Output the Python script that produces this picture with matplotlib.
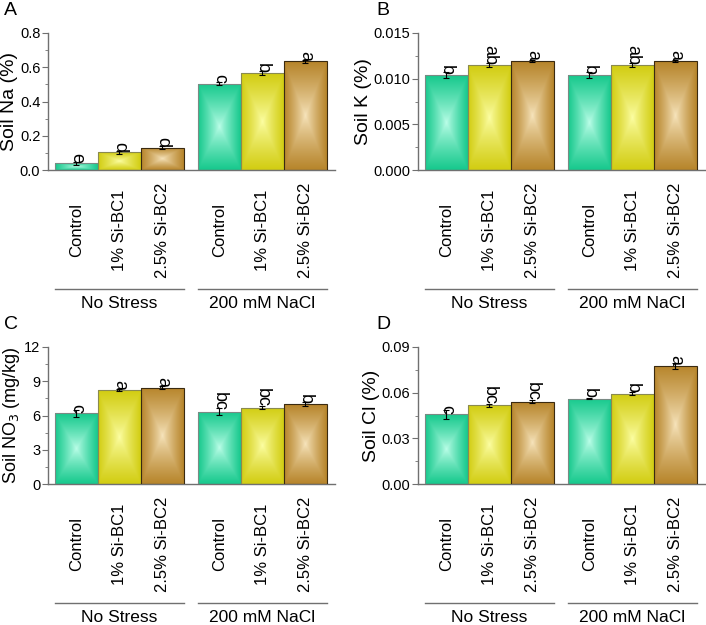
import numpy as np
import matplotlib.pyplot as plt
from matplotlib.colors import to_rgb
from matplotlib.transforms import blended_transform_factory

plt.rcParams['font.family'] = ['Liberation Sans', 'DejaVu Sans']

treatments = ["Control", "1% Si-BC1", "2.5% Si-BC2"]
groups = ["No Stress", "200 mM NaCl"]

na_mean = [0.039, 0.103, 0.131, 0.503, 0.566, 0.634]
na_err = [0.010, 0.008, 0.008, 0.008, 0.012, 0.010]
na_let = ["e", "d", "d", "c", "b", "a"]

k_mean = [0.01039, 0.01149, 0.01193, 0.01039, 0.01149, 0.01193]
k_err = [0.0003, 0.0002, 0.0001, 0.0003, 0.0002, 0.0001]
k_let = ["b", "ab", "a", "b", "ab", "a"]

no3_mean = [6.18, 8.21, 8.45, 6.35, 6.70, 6.99]
no3_err = [0.30, 0.10, 0.10, 0.30, 0.15, 0.20]
no3_let = ["c", "a", "a", "bc", "bc", "b"]

cl_mean = [0.0459, 0.0516, 0.0540, 0.0561, 0.0592, 0.0776]
cl_err = [0.0030, 0.0010, 0.0010, 0.0005, 0.0010, 0.0020]
cl_let = ["c", "bc", "bc", "b", "b", "a"]

edge_cols = ["#17c98d", "#d2cd12", "#b7852b"]
light_cols = ["#bfffea", "#fdffa6", "#f8e6bf"]
border_cols = ["#7a8a84", "#8a8a50", "#3a2a10"]

W, H = 706, 625
fig = plt.figure(figsize=(W / 100, H / 100), dpi=100)

xpos = np.array([0, 1, 2, 3.33, 4.33, 5.33])


def pix_axes(left, right, top, bottom):
    return fig.add_axes([left / W, 1 - bottom / H, (right - left) / W, (bottom - top) / H])


def gradient_img(c_edge, c_light, n=80):
    u = np.linspace(-1, 1, n)
    uu, vv = np.meshgrid(u, u)
    t = np.maximum(np.abs(uu), np.abs(vv)) ** 0.8
    e = np.array(to_rgb(c_edge))
    l = np.array(to_rgb(c_light))
    return l[None, None, :] * (1 - t[..., None]) + e[None, None, :] * t[..., None]


def panel(ax, means, errs, letters, ymax, yticks, minor, ylabel, fmt, label_x, label_fs=14):
    cols = [edge_cols[i % 3] for i in range(6)]
    bars = ax.bar(xpos, means, width=1.0, color=cols,
                  edgecolor=[border_cols[i % 3] for i in range(6)], linewidth=0.8, zorder=2)
    for i, b in enumerate(bars):
        x0, y0 = b.get_x(), b.get_y()
        im = ax.imshow(gradient_img(edge_cols[i % 3], light_cols[i % 3]),
                       extent=[x0, x0 + b.get_width(), y0, y0 + b.get_height()],
                       aspect='auto', zorder=2.5, interpolation='bilinear')
        im.set_clip_path(b)
        b.set_facecolor('none')
        b.set_zorder(3)
    ax.errorbar(xpos, means, yerr=errs, fmt='none', ecolor='black',
                elinewidth=0.8, capsize=2, capthick=0.8, zorder=4)
    for x, m, t in zip(xpos, means, letters):
        ax.text(x, m + ymax * 0.004, t, rotation=270, ha='center', va='bottom',
                fontsize=13, zorder=5)
    ax.set_xlim(-0.66, 6.02)
    ax.set_ylim(0, ymax)
    ax.set_yticks(yticks)
    ax.set_yticks(minor, minor=True)
    ax.set_yticklabels([fmt.format(v) for v in yticks], fontsize=10.5)
    ax.set_xticks([])
    for s in ['top', 'right']:
        ax.spines[s].set_visible(False)
    for s in ['left', 'bottom']:
        ax.spines[s].set_color('#707070')
        ax.spines[s].set_linewidth(1.0)
    ax.tick_params(axis='y', which='major', direction='out', length=4, color='#707070', pad=1.5)
    ax.tick_params(axis='y', which='minor', direction='out', length=2, color='#707070')
    ax.set_ylabel(ylabel, fontsize=label_fs)
    ax.yaxis.set_label_coords(label_x, 0.5)

    trans = blended_transform_factory(ax.transData, ax.transAxes)
    h = ax.get_position().height * H
    for i, x in enumerate(xpos):
        ax.text(x, -60 / h, treatments[i % 3], rotation=90, ha='center', va='center',
                fontsize=12, transform=trans, clip_on=False)
    for g in range(2):
        xs = xpos[g * 3:(g + 1) * 3]
        ax.plot([xs[0] - 0.5, xs[-1] + 0.5], [-119 / h, -119 / h], color='#707070',
                lw=1.0, transform=trans, clip_on=False)
        ax.text(xs.mean(), -134 / h, groups[g], ha='center', va='center',
                fontsize=12.5, transform=trans, clip_on=False)
    return ax


axA = pix_axes(48, 335, 33, 170)
panel(axA, na_mean, na_err, na_let, 0.8, [0, 0.2, 0.4, 0.6, 0.8],
      [0.1, 0.3, 0.5, 0.7], "Soil Na (%)", "{:.1f}", -0.105)
axB = pix_axes(418, 705, 33, 170)
panel(axB, k_mean, k_err, k_let, 0.015, [0, 0.005, 0.010, 0.015],
      [0.0025, 0.0075, 0.0125], "Soil K (%)", "{:.3f}", -0.16)
axC = pix_axes(48, 335, 347, 484)
panel(axC, no3_mean, no3_err, no3_let, 12, [0, 3, 6, 9, 12],
      [1.5, 4.5, 7.5, 10.5], "Soil NO$_3$ (mg/kg)", "{:.0f}", -0.09, label_fs=13)
axD = pix_axes(418, 705, 347, 484)
panel(axD, cl_mean, cl_err, cl_let, 0.09, [0, 0.03, 0.06, 0.09],
      [0.015, 0.045, 0.075], "Soil Cl (%)", "{:.2f}", -0.132)

for lab, x, y in [("A", 4, 2), ("B", 376, 2), ("C", 4, 316), ("D", 376, 316)]:
    fig.text(x / W, 1 - y / H, lab, fontsize=14, ha='left', va='top')

fig.savefig("out.png", dpi=100)
